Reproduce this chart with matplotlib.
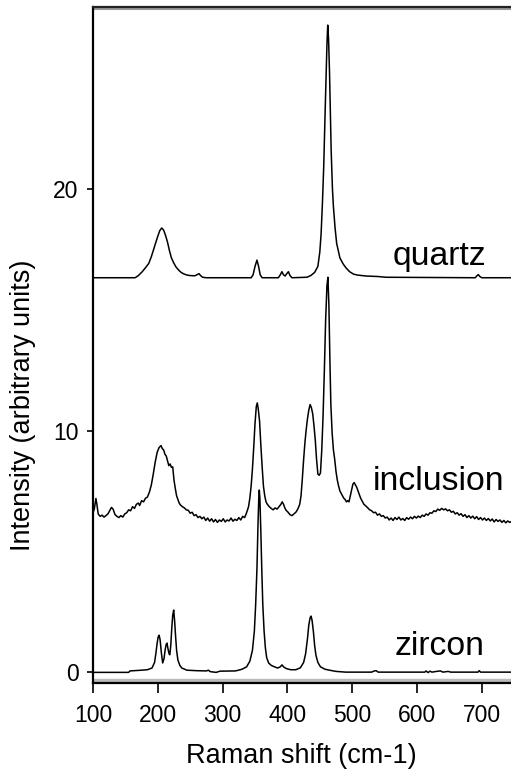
import matplotlib.pyplot as plt

plt.rcParams['font.family'] = ['Liberation Sans', 'DejaVu Sans']

# Raman spectra (shift in cm-1, intensity in arbitrary units)
quartz_x = [100, 165, 170, 176, 182, 186, 190, 194, 197, 200, 203, 206, 209, 212, 215, 218,
            221, 225, 228, 232, 236, 240, 245, 250, 257, 261, 263.5, 266, 269, 275,
            344, 347, 350, 353, 355.5, 358, 361, 386, 389, 391.5, 394, 396.5, 399, 401.5,
            404, 407, 430, 436, 442, 447, 450, 452, 454, 456, 458, 459.5, 461, 462.2, 463.5,
            465, 467.5, 469.5, 471, 473.5, 476, 481, 486, 491, 496, 502, 508, 515, 522, 540,
            552, 690, 692, 694.5, 697, 700, 746]
quartz_y = [16.33, 16.33, 16.42, 16.58, 16.78, 16.92, 17.20, 17.54, 17.80, 18.05, 18.28, 18.39,
            18.30, 18.08, 17.80, 17.45, 17.15, 16.92, 16.78, 16.65, 16.55, 16.49, 16.44, 16.42,
            16.41, 16.46, 16.50, 16.42, 16.35, 16.33,
            16.33, 16.45, 16.80, 17.06, 16.80, 16.45, 16.33, 16.33, 16.45, 16.58, 16.45, 16.40,
            16.50, 16.58, 16.42, 16.33, 16.35, 16.42, 16.55, 16.80, 17.40, 18.16, 19.40, 20.92,
            23.00, 24.50, 26.00, 26.79, 26.20, 24.80, 21.60, 20.00, 19.27, 18.40, 17.75, 17.15,
            16.90, 16.72, 16.58, 16.48, 16.44, 16.42, 16.40, 16.38, 16.35, 16.33, 16.40, 16.46,
            16.38, 16.33, 16.33]

inclusion_x = [100, 102, 104.5, 106, 108, 111, 114, 117, 120, 123, 126, 128.5, 131, 134, 137,
               140, 143, 146, 149, 152, 155, 158, 161, 164, 167, 170, 172, 175, 178, 181, 184,
               187, 190, 193, 196, 199, 202, 205, 207, 209, 211, 213, 215, 217, 219, 221, 223,
               225, 227, 229, 231, 233, 235, 238, 241, 244, 247, 250, 253, 256, 259, 262, 265,
               268, 271, 274, 277, 280, 283, 286, 289, 292, 295, 298, 301, 304, 307, 310, 313,
               316, 319, 322, 325, 328, 331, 334, 337, 340, 342, 344, 346, 348, 350, 352, 353.5,
               355, 357, 359, 361, 363, 365, 367, 369, 372, 375, 378, 381, 384, 387, 390, 392,
               394, 396, 398, 401, 404, 407, 410, 413, 416, 419, 421, 423, 425, 427, 429, 431,
               433, 435, 437, 439, 441, 443, 445, 447, 449, 451, 453, 455, 457, 459, 461, 462.5,
               464, 465.5, 467, 469, 471, 473, 475, 477, 479, 481, 483, 485, 487, 489, 491, 493,
               495, 497, 499, 501, 503, 505, 507, 509, 511, 513, 515, 518, 521, 524, 527, 530,
               533, 536, 539, 542, 545, 548, 551, 554, 557, 560, 563, 566, 569, 572, 575, 578,
               581, 584, 587, 590, 593, 596, 599, 602, 605, 608, 611, 614, 617, 620, 623, 626,
               629, 632, 635, 638, 641, 644, 647, 650, 653, 656, 659, 662, 665, 668, 671, 674,
               677, 680, 683, 686, 689, 692, 695, 698, 701, 704, 707, 710, 713, 716, 719, 722,
               725, 728, 731, 734, 737, 740, 743, 746]
inclusion_y = [6.60, 6.75, 7.19, 6.95, 6.55, 6.45, 6.50, 6.42, 6.48, 6.55, 6.70, 6.82, 6.75, 6.52,
               6.45, 6.40, 6.48, 6.42, 6.55, 6.60, 6.72, 6.68, 6.85, 6.78, 6.95, 7.00, 6.90, 7.10,
               7.05, 7.20, 7.25, 7.45, 7.75, 8.20, 8.70, 9.10, 9.30, 9.38, 9.25, 9.20, 9.02, 8.95,
               8.75, 8.55, 8.62, 8.48, 8.50, 7.95, 7.60, 7.30, 7.15, 7.00, 6.92, 6.85, 6.80, 6.72,
               6.70, 6.58, 6.62, 6.48, 6.52, 6.40, 6.45, 6.35, 6.42, 6.28, 6.38, 6.25, 6.35, 6.22,
               6.32, 6.20, 6.30, 6.24, 6.35, 6.22, 6.30, 6.26, 6.38, 6.25, 6.33, 6.28, 6.40, 6.30,
               6.45, 6.40, 6.60, 6.85, 7.20, 7.70, 8.40, 9.30, 10.30, 11.00, 11.15, 10.90, 10.40,
               9.40, 8.50, 7.70, 7.30, 7.05, 6.95, 6.85, 6.78, 6.72, 6.80, 6.75, 6.85, 6.95, 7.05,
               6.95, 6.80, 6.70, 6.62, 6.52, 6.48, 6.55, 6.62, 6.75, 6.95, 7.30, 8.00, 8.80, 9.50,
               10.05, 10.50, 10.85, 11.08, 10.95, 10.70, 10.20, 9.60, 8.80, 8.20, 8.15, 8.25, 9.20,
               10.60, 12.50, 14.60, 16.00, 16.35, 15.20, 13.00, 11.10, 9.90, 9.20, 8.80, 8.30,
               7.95, 7.70, 7.50, 7.40, 7.30, 7.20, 7.15, 7.05, 7.10, 7.05, 7.30, 7.55, 7.78, 7.85,
               7.75, 7.65, 7.50, 7.35, 7.20, 7.10, 6.95, 6.88, 6.80, 6.72, 6.68, 6.60, 6.62, 6.50,
               6.55, 6.45, 6.48, 6.38, 6.42, 6.30, 6.38, 6.28, 6.40, 6.32, 6.42, 6.30, 6.36, 6.28,
               6.40, 6.33, 6.42, 6.35, 6.45, 6.38, 6.46, 6.40, 6.50, 6.45, 6.55, 6.50, 6.60, 6.58,
               6.68, 6.65, 6.75, 6.70, 6.78, 6.72, 6.76, 6.68, 6.72, 6.62, 6.66, 6.55, 6.60, 6.50,
               6.56, 6.45, 6.52, 6.40, 6.48, 6.38, 6.46, 6.35, 6.44, 6.32, 6.40, 6.30, 6.38, 6.28,
               6.36, 6.26, 6.34, 6.22, 6.32, 6.24, 6.30, 6.20, 6.28, 6.18, 6.26, 6.20, 6.24]

zircon_x = [100, 155, 157, 175, 184, 191, 195, 197, 199, 200.5, 202, 203.5, 205.5, 207.5, 209.5,
            211.5, 213, 214.2, 215.8, 217.5, 218.5, 220, 221.5, 223, 224.5, 226, 227.5, 229, 231,
            234, 237, 245, 260, 275, 278, 281, 290, 296, 320, 330, 337, 342, 346, 349, 351, 353,
            354.5, 355.8, 356.6, 357.5, 359, 360.5, 362, 364, 366, 368, 371, 375, 380, 385, 389,
            391.6, 394, 398, 405, 413, 420, 425, 428, 431, 433, 435, 436.5, 438, 440, 442, 444,
            447, 451, 458, 465, 475, 490, 530, 534, 537, 540, 612, 614, 617, 620, 623, 630, 636,
            640, 648, 652, 694, 696, 698, 746]
zircon_y = [-0.01, -0.01, 0.05, 0.08, 0.10, 0.17, 0.40, 0.77, 1.20, 1.45, 1.53, 1.35, 0.80, 0.38,
            0.55, 0.95, 1.15, 1.20, 0.95, 0.75, 0.72, 1.10, 1.80, 2.35, 2.57, 2.10, 1.46, 0.90,
            0.50, 0.28, 0.17, 0.08, 0.06, 0.05, 0.08, 0.02, -0.01, 0.04, 0.05, 0.12, 0.22, 0.45,
            0.90, 1.70, 2.80, 4.30, 6.00, 7.20, 7.54, 7.20, 5.80, 4.20, 2.80, 1.70, 1.00, 0.60,
            0.38, 0.28, 0.22, 0.17, 0.22, 0.30, 0.22, 0.15, 0.10, 0.10, 0.18, 0.40, 0.75, 1.40,
            1.95, 2.25, 2.32, 2.15, 1.70, 1.10, 0.70, 0.40, 0.22, 0.12, 0.08, 0.03, 0.0, 0.0,
            0.05, 0.06, 0.0, 0.0, 0.05, -0.02, 0.04, 0.0, 0.03, 0.05, 0.0, 0.03, 0.0, 0.0, 0.06,
            0.0, 0.0]

names = ['quartz', 'inclusion', 'zircon']
name_x = [562, 531, 565]
name_y = [16.85, 7.54, 0.70]

fig = plt.figure(figsize=(5.11, 7.72), dpi=100)
ax = fig.add_axes([93/511, 1-683/772, 418/511, 676/772])

for xs, ys in [(quartz_x, quartz_y), (inclusion_x, inclusion_y), (zircon_x, zircon_y)]:
    ax.plot(xs, ys, color='black', lw=1.1)

for n, tx, ty in zip(names, name_x, name_y):
    ax.text(tx, ty, n, fontsize=24.3, ha='left', va='baseline')

# grey shadow lines next to the top and bottom frame
ax.axhline(-0.33, color='#bbbbbb', lw=2.5)
ax.axhline(27.44, color='#999999', lw=1.5)

ax.set_xlim(100, 745)
ax.set_ylim(-0.45, 27.54)
ax.set_xticks([100, 200, 300, 400, 500, 600, 700])
ax.set_yticks([0, 10, 20])
ax.spines['right'].set_visible(False)
for s in ['left', 'bottom', 'top']:
    ax.spines[s].set_linewidth(1.6)
ax.spines['top'].set_color('#222222')
ax.tick_params(axis='x', direction='out', length=7, width=1.2, pad=8, labelsize=16.5)
ax.tick_params(axis='y', direction='out', length=4.5, width=1.2, pad=6, labelsize=16.5)

fig.text(301/511, 1-763/772, 'Raman shift (cm-1)', fontsize=19.5, ha='center', va='baseline')
fig.text(23/511, 1-405/772, 'Intensity (arbitrary units)', fontsize=19.5,
         ha='center', va='center', rotation=90)

fig.savefig('out.png', dpi=100)
